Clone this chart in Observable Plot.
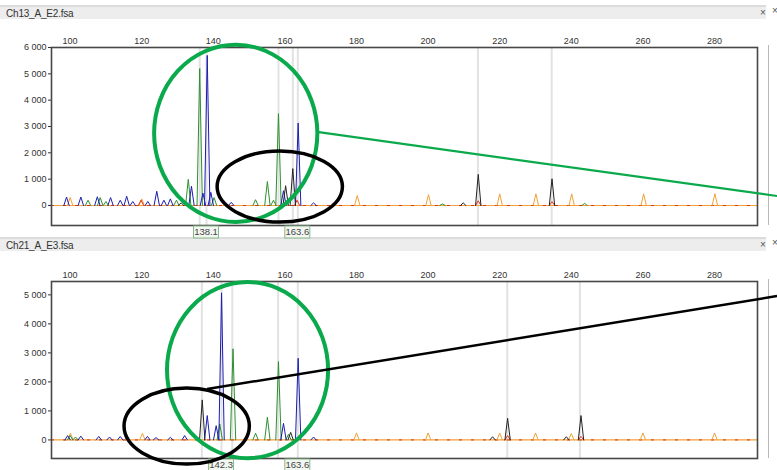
<!DOCTYPE html>
<html><head><meta charset="utf-8">
<script src="https://cdn.jsdelivr.net/npm/d3@7"></script>
<script src="https://cdn.jsdelivr.net/npm/@observablehq/plot@0.6"></script>
<style>
body{margin:0;background:#fff;font-family:"Liberation Sans",Arial,sans-serif;}
#page{position:relative;width:777px;height:470px;overflow:hidden;background:#fff;}
.bar{position:absolute;left:0;width:766px;height:14px;background:#ededed;border-top:2px solid #dcdcdc;font-size:10px;color:#333;line-height:13px;padding-left:6px;box-sizing:border-box;letter-spacing:-0.2px}
.x{position:absolute;font-size:10px;color:#555;}
.sep{position:absolute;left:768px;width:1px;background:#b8b8b8}
.panel{position:absolute;left:0}
#overlay{position:absolute;left:0;top:0;pointer-events:none}
</style></head>
<body><div id="page"></div>
<script>
// ---------- data ----------
const titles = ["Ch13_A_E2.fsa", "Ch21_A_E3.fsa"];
const xTicks = [100, 120, 140, 160, 180, 200, 220, 240, 260, 280];
const yTicksTop = [0, 1000, 2000, 3000, 4000, 5000, 6000];
const yTicksBottom = [0, 1000, 2000, 3000, 4000, 5000];

// peaks: [size (bp), height (RFU)]
const topBlue = [[99,320],[103,320],[107.6,330],[111.3,300],[114,200],[115.8,350],[117.5,150],[121.7,150],[124.2,540],[126.2,200],[128,250],[133.9,730],[137.1,470],[138.3,5700],[139.3,500],[145,120],[159.6,560],[163.7,3130],[168,100]];
const topGreen = [[105,200],[108.4,300],[110,150],[129.7,200],[133,990],[136.2,5200],[140.2,300],[151.8,220],[155.1,910],[156.8,200],[158.2,3490],[204,60],[243.7,80]];
const topBlack = [[131,100],[160.2,750],[162.2,1400],[209.8,100],[214,1180],[234.6,1015]];
const topOrange = [[100,300],[120,250],[180.2,380],[200.1,410],[220,440],[230.1,440],[240.1,440],[260.2,440],[280.1,450]];
const topRed = [[119.8,200],[163.4,200],[214,180],[234.6,150]];
const topMarkers = [136.2, 138.1, 158.2, 162.2, 163.6, 213.9, 234.5];
const topLabels = [138.1, 163.6];

const botBlue = [[99.3,150],[103,130],[108,120],[111,100],[114,120],[121.6,120],[124,80],[128,90],[132,150],[138.3,840],[140.8,490],[142.3,5070],[159.6,570],[163.7,2815],[168,100]];
const botGreen = [[100,150],[101.5,100],[141.8,550],[145.5,3140],[151.8,230],[155.1,780],[158.2,2700],[161,200]];
const botBlack = [[136.9,1380],[161.6,260],[218,110],[222.2,745],[238.6,110],[242.7,840]];
const botOrange = [[100.1,230],[120.2,230],[180,240],[200,240],[220,240],[230,240],[240,220],[260,240],[280,240]];
const botRed = [[222.2,150],[242.7,120]];
const botMarkers = [136.8, 142.3, 145.3, 158.1, 163.6, 222.1, 242.4];
const botLabels = [142.3, 163.6];

// annotations in data units of each panel: [cx bp, cy RFU, rx bp, ry RFU]
const topGreenEllipse = [146.4, 2720, 22.8, 3365];
const topBlackEllipse = [158.7, 700, 17.5, 1350];
const botGreenEllipse = [149.7, 2390, 22.5, 3035];
const botBlackEllipse = [132.7, 460, 17.5, 1310];
const greenLink = [[169.1, 2775], [297.6, 340]];  // top panel units
const blackLink = [[138.4, 1735], [297.6, 4940]]; // bottom panel units

const colors = {blue:"#1c1cb0", green:"#2f8f2f", black:"#222222", orange:"#f0a236", red:"#e0321e"};
// ---------- build ----------
const fmt = d3.formatLocale({decimal:".", thousands:"\u00a0", grouping:[3], currency:["",""]}).format(",");
const W = 0.75;
function peakRows(list, color) {
  const rows = [];
  list.forEach(([bp, h], i) => {
    const id = color + i;
    rows.push({x: bp - W, y: 0, id, color}, {x: bp, y: h, id, color}, {x: bp + W, y: 0, id, color});
  });
  return rows;
}
function panel(cfg) {
  const rows = [
    ...peakRows(cfg.orange, "orange"), ...peakRows(cfg.red, "red"),
    ...peakRows(cfg.green, "green"), ...peakRows(cfg.blue, "blue"), ...peakRows(cfg.black, "black")
  ];
  return Plot.plot({
    width: 777, height: cfg.height,
    marginLeft: 51, marginRight: 20, marginTop: cfg.mt, marginBottom: cfg.mb,
    style: {fontFamily: '"Liberation Sans", Arial, sans-serif', fontSize: "9px", color: "#333", background: "transparent"},
    x: {domain: [94.8, 292]},
    y: {domain: cfg.ydomain},
    marks: [
      Plot.ruleX(cfg.markers, {stroke: "#e2e2e2", strokeWidth: 2}),
      Plot.ruleY([0], {stroke: colors.orange, strokeWidth: 1.2}),
      Plot.ruleY([0], {stroke: colors.red, strokeWidth: 1, strokeDasharray: "3,9"}),
      Plot.line(rows, {x: "x", y: "y", z: "id", stroke: d => colors[d.color], strokeWidth: 1}),
      Plot.frame({stroke: "#474747", strokeWidth: 1.6}),
      Plot.axisX({anchor: "top", ticks: xTicks, tickSize: 0, tickPadding: 4, fontSize: 9, label: null}),
      Plot.axisY({ticks: cfg.yticks, tickFormat: fmt, tickSize: 3, tickPadding: 2, fontSize: 9, label: null})
    ]
  });
}
const page = document.getElementById("page");
const panels = [
  {title: titles[0], barTop: 5, top: 20, height: 222, mt: 27, mb: 17, ydomain: [-760, 6000], yticks: yTicksTop,
   blue: topBlue, green: topGreen, black: topBlack, orange: topOrange, red: topRed, markers: topMarkers, labels: topLabels, labelDy: 7},
  {title: titles[1], barTop: 237, top: 252, height: 218, mt: 29, mb: 12, ydomain: [-640, 5460], yticks: yTicksBottom,
   blue: botBlue, green: botGreen, black: botBlack, orange: botOrange, red: botRed, markers: botMarkers, labels: botLabels, labelDy: 7}
];
const charts = panels.map(p => {
  const bar = document.createElement("div");
  bar.className = "bar"; bar.style.top = p.barTop + "px"; bar.textContent = p.title;
  page.appendChild(bar);
  const xm = document.createElement("div"); xm.className = "x"; xm.style.left = "760px"; xm.style.top = (p.barTop + 2) + "px"; xm.textContent = "\u00d7";
  page.appendChild(xm);
  const xm2 = document.createElement("div"); xm2.className = "x"; xm2.style.left = "772px"; xm2.style.top = (p.barTop) + "px"; xm2.textContent = "\u00d7";
  page.appendChild(xm2);
  const chart = panel(p);
  const wrap = document.createElement("div"); wrap.className = "panel"; wrap.style.top = p.top + "px";
  wrap.appendChild(chart); page.appendChild(wrap);
  const sep = document.createElement("div"); sep.className = "sep";
  sep.style.top = (p.top + p.mt - 2) + "px"; sep.style.height = (p.height - p.mt - p.mb + 2) + "px";
  page.appendChild(sep);
  return {chart, p};
});

// ---------- overlay annotations ----------
const NS = "http://www.w3.org/2000/svg";
const ov = document.createElementNS(NS, "svg");
ov.setAttribute("id", "overlay"); ov.setAttribute("width", 777); ov.setAttribute("height", 470);
page.appendChild(ov);
function el(tag, attrs, parent = ov) {
  const e = document.createElementNS(NS, tag);
  for (const k in attrs) e.setAttribute(k, attrs[k]);
  parent.appendChild(e); return e;
}
function proj(i) {
  const {chart, p} = charts[i];
  const xs = chart.scale("x"), ys = chart.scale("y");
  return {X: v => xs.apply(v), Y: v => ys.apply(v) + p.top, p, ys};
}
// peak labels
charts.forEach((c, i) => {
  const P = proj(i);
  const yb = P.p.top + P.p.height - P.p.mb + P.p.labelDy;
  c.p.labels.forEach(v => {
    const cx = P.X(v);
    el("rect", {x: cx - 12.5, y: yb - 6, width: 25, height: 12, fill: "#f3f7f1", stroke: "#86b886", "stroke-width": 1});
    const t = el("text", {x: cx, y: yb + 3.4, "text-anchor": "middle", "font-size": 9.5, fill: "#444", "font-family": "Liberation Sans, Arial"});
    t.textContent = v.toFixed(1);
  });
});
function ellipse(i, e, stroke, sw) {
  const P = proj(i);
  const cx = P.X(e[0]), cy = P.Y(e[1]);
  el("ellipse", {cx, cy, rx: P.X(e[0] + e[2]) - cx, ry: cy - P.Y(e[1] + e[3]), fill: "none", stroke, "stroke-width": sw});
}
function link(i, pts, stroke, sw) {
  const P = proj(i);
  el("line", {x1: P.X(pts[0][0]), y1: P.Y(pts[0][1]), x2: P.X(pts[1][0]), y2: P.Y(pts[1][1]), stroke, "stroke-width": sw});
}
ellipse(0, topGreenEllipse, "#0aaa4c", 4);
ellipse(0, topBlackEllipse, "#000", 3.5);
ellipse(1, botGreenEllipse, "#0aaa4c", 4);
ellipse(1, botBlackEllipse, "#000", 3.5);
link(0, greenLink, "#0aaa4c", 2.2);
link(1, blackLink, "#000", 2.5);
</script></body></html>
